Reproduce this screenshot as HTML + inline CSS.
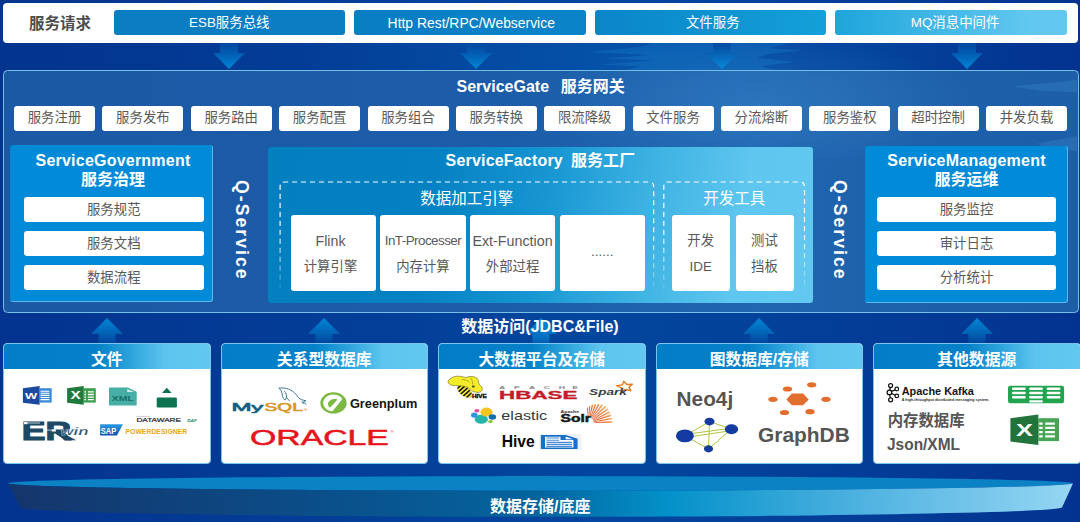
<!DOCTYPE html>
<html lang="zh-CN">
<head>
<meta charset="utf-8">
<title>Q-Service 服务架构</title>
<style>
html,body{margin:0;padding:0;}
body{width:1080px;height:522px;overflow:hidden;position:relative;
  font-family:"Liberation Sans","Noto Sans CJK SC",sans-serif;
  background:#03348f;}
#stage{position:absolute;left:0;top:0;width:1080px;height:522px;overflow:hidden;
  background:
    radial-gradient(ellipse 360px 50px at 660px 56px, rgba(10,110,190,.35), rgba(10,110,190,0) 100%),
    linear-gradient(90deg,#03348f 0%,#033d97 30%,#03469f 55%,#033d97 80%,#033390 100%);}
.abs{position:absolute;}
svg text{font-family:"Liberation Sans","Noto Sans CJK SC",sans-serif;}
.c{text-align:center;white-space:nowrap;}
/* top request bar */
#reqbar{left:3px;top:2.5px;width:1074.5px;height:40.5px;background:#fff;border-radius:4px;}
#reqlabel{left:4px;top:2.5px;width:112px;height:41px;line-height:41px;font-weight:bold;font-size:15.5px;color:#4d4d4d;}
.rbtn{top:10px;height:25px;line-height:26.5px;width:231.5px;border-radius:3px;color:#fff;font-size:13.4px;}
/* arrows */
.arrd{width:34px;height:27px;}
.arru{width:34px;height:27px;}
/* gateway */
#gate{left:3px;top:70px;width:1075.5px;height:243px;box-sizing:border-box;border:1.3px solid #78bfe4;border-radius:4.5px;
  background:linear-gradient(90deg,#1c59a5 0%,#1c5ca8 45%,#2066b0 70%,#1e60aa 85%,#1d5ea8 100%);}
.ttl{color:#fff;font-weight:bold;font-size:16px;}
.tag{top:106px;width:81px;height:25px;line-height:24px;background:#fff;border-radius:3px;color:#595959;font-size:13.4px;}
.pnl{background:#018ad7;border-radius:3px;box-sizing:border-box;border:0 solid #5bb9ec;border-right-width:1.3px;border-bottom-width:1.3px;}
.item{height:25px;line-height:26.4px;background:#fff;border-radius:3px;color:#595959;font-size:13.4px;}
.qs{color:#fff;font-weight:bold;font-size:17.6px;letter-spacing:2.05px;transform-origin:0 0;transform:rotate(90deg);white-space:nowrap;line-height:20px;height:20px;}
#sf{left:268px;top:147px;width:544.5px;height:155.5px;border-radius:3px;overflow:hidden;
  background:linear-gradient(99deg,#027fbf 0%,#0481c2 30%,#1796d2 50%,#3db2e2 68%,#5ec6ef 85%,#62c8f0 100%);}
.dash{border:1px dashed #fff;border-radius:5px;box-sizing:border-box;}
.sub{color:#fff;font-size:15.5px;}
.card{top:67.5px;height:76px;background:#fff;border-radius:3px;color:#595959;font-size:13.4px;}
.card span{position:absolute;left:-10px;right:-10px;text-align:center;white-space:nowrap;line-height:20px;}
/* bottom cards */
.bc{top:343px;width:207.5px;height:120.5px;background:#fff;border-radius:4px;box-sizing:border-box;border:1px solid #7cc4ec;overflow:hidden;}
.bh{left:0;top:0;right:0;height:25px;line-height:31.5px;color:#fff;font-weight:bold;font-size:15.8px;
  background:linear-gradient(90deg,#027dc8 0%,#0581c9 45%,#2da5dc 62%,#5cc4ee 78%,#62c8f0 100%);}
</style>
</head>
<body>
<div id="stage">

<!-- ===== top request bar ===== -->
<div id="reqbar" class="abs"></div>
<div id="reqlabel" class="abs c">服务请求</div>
<div class="abs rbtn c" style="left:113.5px;background:#0a7dc3;">ESB服务总线</div>
<div class="abs rbtn c" style="left:354px;background:linear-gradient(90deg,#0a7dc3,#0a83c8);font-size:13.9px;text-indent:3px;">Http Rest/RPC/Webservice</div>
<div class="abs rbtn c" style="left:594.5px;background:linear-gradient(90deg,#0a85c9,#14a0d8);text-indent:5px;">文件服务</div>
<div class="abs rbtn c" style="left:835px;background:linear-gradient(90deg,#1ea5db,#62c8f0 85%);text-indent:8.6px;">MQ消息中间件</div>

<svg class="abs" style="left:560px;top:43px" width="280" height="28" viewBox="560 43 280 28"><path d="M588 52L640 47L652 43H790L770 48L803 50.5L768 54L757 58L795 62L760 66L775 70H625L640 66.5L600 64.5L655 60.5L604 58.5L650 55Z" fill="#1c86d2" fill-opacity=".3"/></svg>
<!-- down arrows -->
<svg class="abs arrd" style="left:212px;top:43px" viewBox="0 0 34 27"><defs><linearGradient id="gd" x1="0" y1="0" x2="0" y2="1"><stop offset="0" stop-color="#03469e"/><stop offset=".45" stop-color="#0260b4"/><stop offset="1" stop-color="#0086d6"/></linearGradient></defs><path d="M8 0H26V10H33L17 26L1 10H8Z" fill="url(#gd)"/></svg>
<svg class="abs arrd" style="left:458.5px;top:43px" viewBox="0 0 34 27"><path d="M8 0H26V10H33L17 26L1 10H8Z" fill="url(#gd)"/></svg>
<svg class="abs arrd" style="left:704.5px;top:43px" viewBox="0 0 34 27"><path d="M8 0H26V10H33L17 26L1 10H8Z" fill="url(#gd)"/></svg>
<svg class="abs arrd" style="left:950px;top:43px" viewBox="0 0 34 27"><path d="M8 0H26V10H33L17 26L1 10H8Z" fill="url(#gd)"/></svg>

<!-- ===== gateway ===== -->
<div id="gate" class="abs"></div>
<svg class="abs" style="left:1000px;top:72px" width="78" height="82" viewBox="1000 72 78 82"><path d="M1012 86.5L1077 80V92.5L1038 90.5ZM1037 143.5L1077 136V151L1050 149.5Z" fill="#4aa6e6" fill-opacity=".2"/></svg>
<div class="abs" style="left:560px;top:38px;width:520px;height:130px;background:radial-gradient(ellipse 42% 50% at 38% 50%,rgba(80,170,230,.22) 0%,rgba(80,170,230,.13) 50%,rgba(80,170,230,0) 100%);"></div>
<div class="abs ttl c" style="left:340.6px;width:400px;top:77px;line-height:20px;">ServiceGate<span style="margin-left:11.6px">服务网关</span></div>

<div class="abs tag c" style="left:14px">服务注册</div>
<div class="abs tag c" style="left:102.4px">服务发布</div>
<div class="abs tag c" style="left:190.7px">服务路由</div>
<div class="abs tag c" style="left:279.1px">服务配置</div>
<div class="abs tag c" style="left:367.5px">服务组合</div>
<div class="abs tag c" style="left:455.8px">服务转换</div>
<div class="abs tag c" style="left:544.2px">限流降级</div>
<div class="abs tag c" style="left:632.5px">文件服务</div>
<div class="abs tag c" style="left:720.9px">分流熔断</div>
<div class="abs tag c" style="left:809.3px">服务鉴权</div>
<div class="abs tag c" style="left:897.6px">超时控制</div>
<div class="abs tag c" style="left:986px">并发负载</div>

<!-- ServiceGovernment -->
<div class="abs pnl" style="left:10px;top:145px;width:203px;height:157px;"></div>
<div class="abs ttl c" style="left:11.5px;width:203px;top:151px;line-height:19px;"><span style="letter-spacing:.22px">ServiceGovernment</span><br>服务治理</div>
<div class="abs item c" style="left:24px;width:179.5px;top:197px;">服务规范</div>
<div class="abs item c" style="left:24px;width:179.5px;top:231px;">服务文档</div>
<div class="abs item c" style="left:24px;width:179.5px;top:265px;">数据流程</div>

<div class="abs qs" style="left:252.1px;top:179.6px;">Q-Service</div>

<!-- ServiceFactory -->
<div id="sf" class="abs">
  <svg class="abs" style="left:0;top:0" width="545" height="156" viewBox="0 0 545 156"><defs><linearGradient id="dfade" gradientUnits="userSpaceOnUse" x1="0" y1="0" x2="0" y2="156"><stop offset="0" stop-color="#fff" stop-opacity="1"/><stop offset=".5" stop-color="#fff" stop-opacity=".95"/><stop offset=".72" stop-color="#fff" stop-opacity=".6"/><stop offset=".95" stop-color="#fff" stop-opacity="0"/></linearGradient></defs><g fill="none" stroke="url(#dfade)" stroke-width="1.2" stroke-dasharray="5.2 3.8">
    <path d="M12.1 160V39.5Q12.1 35 16.6 35H381.2Q385.7 35 385.7 39.5V160"/>
    <path d="M395.8 160V39.5Q395.8 35 400.3 35H532Q536.5 35 536.5 39.5V160"/></g></svg>
  <div class="abs sub c" style="left:11.5px;width:374.5px;top:42px;line-height:20px;">数据加工引擎</div>
  <div class="abs sub c" style="left:395.5px;width:141.5px;top:42px;line-height:20px;">开发工具</div>
  <div class="abs card" style="left:22.5px;width:85.5px;"><span style="top:16px;font-size:14.2px;margin-left:-5.5px">Flink</span><span style="top:42px;margin-left:-5.5px">计算引擎</span></div>
  <div class="abs card" style="left:112.2px;width:85.5px;"><span style="top:16px;letter-spacing:-.53px">InT-Processer</span><span style="top:42px">内存计算</span></div>
  <div class="abs card" style="left:201.8px;width:85.5px;"><span style="top:16px;font-size:14.3px">Ext-Function</span><span style="top:42px">外部过程</span></div>
  <div class="abs card" style="left:291.5px;width:85.5px;"><span style="top:27px">......</span></div>
  <div class="abs card" style="left:403.7px;width:58px;"><span style="top:16px">开发</span><span style="top:42px">IDE</span></div>
  <div class="abs card" style="left:467.5px;width:58px;"><span style="top:16px">测试</span><span style="top:42px">挡板</span></div>
</div>
<div class="abs ttl c" style="left:268px;width:544.5px;top:150.7px;line-height:20px;"><span style="letter-spacing:.18px">ServiceFactory</span><span style="margin-left:8px">服务工厂</span></div>

<div class="abs qs" style="left:849.7px;top:179.6px;">Q-Service</div>

<!-- ServiceManagement -->
<div class="abs pnl" style="left:865px;top:146px;width:203px;height:156.5px;"></div>
<div class="abs ttl c" style="left:865px;width:203px;top:151px;line-height:19px;"><span style="letter-spacing:.22px">ServiceManagement</span><br>服务运维</div>
<div class="abs item c" style="left:877px;width:179px;top:197px;">服务监控</div>
<div class="abs item c" style="left:877px;width:179px;top:231px;">审计日志</div>
<div class="abs item c" style="left:877px;width:179px;top:265px;">分析统计</div>

<!-- up arrows -->
<svg class="abs arru" style="left:89.5px;top:318px" viewBox="0 0 34 27"><defs><linearGradient id="gu" x1="0" y1="0" x2="0" y2="1"><stop offset="0" stop-color="#0086d6"/><stop offset=".6" stop-color="#0260b2"/><stop offset="1" stop-color="#03409a"/></linearGradient></defs><path d="M17 0L33 16H25.5V27H8.5V16H1Z" fill="url(#gu)"/></svg>
<svg class="abs arru" style="left:306.7px;top:318px" viewBox="0 0 34 27"><path d="M17 0L33 16H25.5V27H8.5V16H1Z" fill="url(#gu)"/></svg>
<svg class="abs arru" style="left:523.6px;top:318px" viewBox="0 0 34 27"><defs><linearGradient id="gu3" x1="0" y1="0" x2="0" y2="1"><stop offset="0" stop-color="#0086d6"/><stop offset=".7" stop-color="#0470c2"/><stop offset="1" stop-color="#0458ac"/></linearGradient></defs><path d="M17 0L33 16H25.5V27H8.5V16H1Z" fill="url(#gu3)"/></svg>
<svg class="abs arru" style="left:742.1px;top:318px" viewBox="0 0 34 27"><path d="M17 0L33 16H25.5V27H8.5V16H1Z" fill="url(#gu)"/></svg>
<svg class="abs arru" style="left:959.6px;top:318px" viewBox="0 0 34 27"><path d="M17 0L33 16H25.5V27H8.5V16H1Z" fill="url(#gu)"/></svg>

<div class="abs ttl c" style="left:340px;width:400px;top:317px;line-height:20px;">数据访问(JDBC&amp;File)</div>

<!-- ===== bottom cards ===== -->
<div class="abs bc" id="c1" style="left:3px;"><div class="abs bh c">文件</div></div>
<div class="abs bc" id="c2" style="left:220.5px;"><div class="abs bh c">关系型数据库</div></div>
<div class="abs bc" id="c3" style="left:438px;"><div class="abs bh c">大数据平台及存储</div></div>
<div class="abs bc" id="c4" style="left:655.5px;"><div class="abs bh c">图数据库/存储</div></div>
<div class="abs bc" id="c5" style="left:873px;"><div class="abs bh c">其他数据源</div></div>

<!-- ===== logos ===== -->
<svg class="abs logos" style="left:0;top:368px" width="1080" height="96" viewBox="0 368 1080 96">
<defs>
  <linearGradient id="sap" x1="0" y1="0" x2="0" y2="1"><stop offset="0" stop-color="#2a9be6"/><stop offset="1" stop-color="#0f50aa"/></linearGradient>
  <radialGradient id="sun" gradientUnits="userSpaceOnUse" cx="588.6" cy="422.6" r="24"><stop offset="0" stop-color="#d63c1c"/><stop offset=".45" stop-color="#e2602a"/><stop offset=".8" stop-color="#ee9350"/><stop offset="1" stop-color="#f6c08a"/></radialGradient>
</defs>
<!-- card 1 : 文件 -->
<g id="lg-word">
  <rect x="39.6" y="388.2" width="12.1" height="14.4" fill="#3c8cd7"/>
  <path d="M40.6 391.2H49.4M40.6 393.3H49.4M40.6 395.4H49.4M40.6 397.5H49.4M40.6 399.6H49.4" stroke="#fff" stroke-width="1.1"/>
  <path d="M22.9 388.2L39.6 386.1V404.7L22.9 402.75Z" fill="#1b4aa0"/>
  <text x="25" y="398.9" font-weight="bold" font-size="9.8" fill="#fff" textLength="12.2" lengthAdjust="spacingAndGlyphs">W</text>
</g>
<g id="lg-excel">
  <rect x="83.7" y="388.2" width="12.1" height="14.4" fill="#3ca050"/>
  <path d="M84.4 391.9H86M84.4 394.5H86M84.4 397.1H86M84.4 399.6H86M88 391.9H93.8M88 394.5H93.8M88 397.1H93.8M88 399.6H93.8" stroke="#fff" stroke-width="1.4"/>
  <path d="M67.1 388.2L83.75 386.1V404.7L67.1 402.75Z" fill="#217a3c"/>
  <text x="70.4" y="399.1" font-weight="bold" font-size="10.2" fill="#fff" textLength="10.2" lengthAdjust="spacingAndGlyphs">X</text>
</g>
<g id="lg-xml">
  <path d="M109 387.6H127.9L136.7 391.75V405.5H109Z" fill="#46afa5"/>
  <path d="M127.2 388.9L134.2 391.9H127.2Z" fill="#d2ece8"/>
  <text x="111.7" y="401" font-weight="bold" font-size="6.6" fill="#196e69" textLength="22.2" lengthAdjust="spacingAndGlyphs">XML</text>
</g>
<g id="lg-eject" fill="#0e7350">
  <path d="M166.8 387.8L162 392.9H171.7Z"/>
  <rect x="156.7" y="397.6" width="20.2" height="9.8" rx="1.2"/>
</g>
<g id="lg-erwin">
  <text x="21.8" y="439.6" font-weight="bold" font-size="26.4" fill="#1e4864" stroke="#1e4864" stroke-width="1.1" stroke-linejoin="miter" textLength="49.5" lengthAdjust="spacingAndGlyphs">ER</text>
  <path d="M60 431.5L76.2 440.2H65.5L55 433.5Z" fill="#1e4864"/>
  <rect x="24" y="422.1" width="3.6" height="2.1" fill="#fff"/>
  <path d="M27.6 423H40M45.4 423.6V430.1H51.7" stroke="#fff" stroke-width=".7" fill="none"/>
  <rect x="51.7" y="429.3" width="4.2" height="2.2" fill="#fff"/>
  <text x="60.5" y="435" font-family="'Liberation Serif',serif" font-style="italic" font-weight="bold" font-size="10.5" fill="#1e4864" stroke="#fff" stroke-width=".25" textLength="28" lengthAdjust="spacingAndGlyphs">win</text>
</g>
<g id="lg-sap">
  <path d="M100.1 424.3H123L116.9 435.5H100.1Z" fill="url(#sap)"/>
  <text x="100.7" y="433.9" font-weight="bold" font-size="9.8" fill="#fff" textLength="15.6" lengthAdjust="spacingAndGlyphs">SAP</text>
  <text x="125.5" y="434.4" font-weight="bold" font-size="7.8" fill="#eba51e" textLength="61.7" lengthAdjust="spacingAndGlyphs">POWERDESIGNER</text>
  <path d="M136.2 416.4H150" stroke="#9a9a9a" stroke-width=".5"/>
  <text x="136.4" y="422.2" font-size="5.5" fill="#333" stroke="#333" stroke-width=".22" textLength="44.6" lengthAdjust="spacingAndGlyphs">DATAWARE</text>
  <text x="187.2" y="422.4" font-size="3.9" font-style="italic" font-weight="bold" fill="#1e8250" textLength="9.6" lengthAdjust="spacingAndGlyphs">DAF</text>
</g>
<!-- card 2 : 关系型数据库 -->
<g id="lg-mysql">
  <text x="231.4" y="411.1" font-size="10.6" fill="#145f82" stroke="#145f82" stroke-width=".6" textLength="32" lengthAdjust="spacingAndGlyphs">My</text>
  <text x="264.6" y="411.1" font-size="10.6" fill="#d7962a" stroke="#d7962a" stroke-width=".6" textLength="38.2" lengthAdjust="spacingAndGlyphs">SQL</text>
  <circle cx="305.6" cy="409.5" r="1.25" fill="#e9c085"/>
  <path d="M279.2 388.1C284 387.4 289.5 388.6 294.2 392.5C296.5 394.6 297.5 396.6 298.6 397.7C300 399.3 302.6 400.2 305.8 400.8C304.6 401.3 303.6 401.6 303.2 402.2C304.2 402.8 305.4 403.4 306.2 404.3M279.3 388.3C280.8 389.6 281.6 391.4 282 393.5C282.4 395.6 282.6 397.4 283.6 398.7C284.2 399.5 284.8 400 285.2 400C285.6 399.2 286 398.4 286.6 397.7C287.6 398.6 288.6 399.8 289.4 400.8M284.6 391.4C286 392.8 286.6 394.6 286.6 397.6M301.8 401.6C302.4 402.4 302.8 403 303.3 403.8" fill="none" stroke="#326e8c" stroke-width=".95" stroke-linecap="round" stroke-linejoin="round"/>
</g>
<g id="lg-greenplum">
  <ellipse cx="333.5" cy="402.9" rx="13.2" ry="10.6" fill="#7db941"/>
  <path d="M340.9 398.9A9 7.2 0 1 0 332 410Z" fill="#fff" stroke="#fff" stroke-width="2.4" stroke-linejoin="round"/><path d="M337.6 399.4C334 398.2 330 399.4 328.4 402.2C327.4 404.4 328.2 406.6 330.2 407.6Z" fill="#7db941"/>
  <text x="349.9" y="407.8" font-weight="bold" font-size="13" fill="#141414" textLength="67.4" lengthAdjust="spacingAndGlyphs">Greenplum</text>
</g>
<g id="lg-oracle">
  <text x="250.1" y="444.9" font-size="22.3" fill="#e8141c" stroke="#e8141c" stroke-width=".55" textLength="138.8" lengthAdjust="spacingAndGlyphs">ORACLE</text>
  <text x="390.6" y="432.6" font-size="4.2" fill="#e8141c">®</text>
</g>
<!-- card 3 : 大数据平台及存储 -->
<g id="lg-hivebee">
  <clipPath id="beeclip"><ellipse cx="464.6" cy="391.4" rx="8.6" ry="4.6" transform="rotate(38 464.6 391.4)"/></clipPath>
  <g clip-path="url(#beeclip)">
    <rect x="452" y="380" width="26" height="22" fill="#f2e636"/>
    <g stroke="#141414" stroke-width="1.5" transform="rotate(-42 464.6 391.4)">
      <path d="M453 384.4H477M453 387.6H477M453 390.8H477M453 394H477M453 397.2H477M453 400.4H477"/>
    </g>
  </g>
  <path d="M448.2 380.8C450 378 453 376.6 456.5 376.2C460 375.8 463 377 465.7 377.5C468 376.6 470 376.2 472.3 376.6C475 377 476.8 377.6 477.6 379.2C478.6 381 478.6 382.8 479 384.2C480.4 385.2 481.8 386.4 482.3 387.9C482.6 389.6 481.8 391 480.7 391.7C479 392.6 477.2 392.6 475.7 392.1C474 391.8 472.6 391.4 471.5 390.8C470 389.8 469 388.6 468.2 387.5C465.2 386.4 462 386 459 385.8C456.6 385.8 454.4 385.8 452.3 385.4C450.6 385 449.2 384.4 448.6 383.3C448.1 382.4 447.9 381.6 448.2 380.8Z" fill="#f5eb28" stroke="#3a3a10" stroke-width=".45"/>
  <path d="M461.5 379.6C464.5 379.4 467.4 380.2 469.4 382M470.4 377.6C472 379.6 472.8 382 472.4 384.4" fill="none" stroke="#6a641a" stroke-width=".5"/><ellipse cx="473.4" cy="386.6" rx="1.5" ry="1" fill="#3a3a10"/><circle cx="473.8" cy="386.3" r=".4" fill="#fff"/>
  <text x="471.9" y="398.4" font-family="'Liberation Serif','DejaVu Serif',serif" font-weight="bold" font-size="5.9" fill="#0a0a0a" stroke="#0a0a0a" stroke-width=".35" textLength="15" lengthAdjust="spacingAndGlyphs">HIVE</text>
</g>
<g id="lg-hbase">
  <g transform="translate(499 389.1) scale(2.1 1)"><text x="0 7.1 14.3 21.3 28.4 34.9" y="0" font-size="4.2" font-weight="bold" fill="#8a8a8a">APACHE</text></g>
  <text x="499" y="398.5" font-size="10.8" font-weight="bold" fill="#c31e28" stroke="#c31e28" stroke-width=".3" textLength="78.5" lengthAdjust="spacingAndGlyphs">HBASE</text>
</g>
<g id="lg-spark">
  <path d="M623.8 381.3L626.8 384.5L632.5 384.3L628.8 387.2L630.8 390.8L625.5 389.4L621.1 391.7L621.5 387.9L616.7 385.8L622.3 384.9Z" fill="#fff" stroke="#e67d1e" stroke-width="1.4" stroke-linejoin="round"/>
  <text x="589.1" y="394.8" font-size="9.6" font-weight="bold" font-style="italic" fill="#3c3c3c" textLength="37.8" lengthAdjust="spacingAndGlyphs">Spark</text>
</g>
<g id="lg-elastic">
  <ellipse cx="481.3" cy="419.3" rx="6.6" ry="4.5" fill="#28b4aa"/>
  <ellipse cx="486.5" cy="412.1" rx="6.1" ry="4.5" fill="#fac31e"/>
  <ellipse cx="476.9" cy="410.7" rx="2.5" ry="1.8" fill="#eb4696"/>
  <ellipse cx="474.3" cy="415.1" rx="3.3" ry="2.7" fill="#3296dc"/>
  <ellipse cx="492.4" cy="417" rx="3.8" ry="2.8" fill="#146eaa"/>
  <ellipse cx="490.5" cy="421.6" rx="2.4" ry="1.6" fill="#8cc83c"/>
  <text x="501.3" y="420" font-size="12.6" fill="#37373c" textLength="45.9" lengthAdjust="spacingAndGlyphs">elastic</text>
</g>
<g id="lg-solr">
  <path d="M588.0 417.6L586.8 408.0L587.3 407.3L588.0 407.9L588.4 417.6ZM588.7 417.6L589.0 406.4L589.7 405.8L590.3 406.4L589.1 417.6ZM589.5 417.7L591.6 405.1L592.5 404.7L593.1 405.4L589.9 417.8ZM590.2 417.9L594.7 404.3L595.6 404.1L596.1 404.9L590.6 418.0ZM590.9 418.1L598.0 404.1L599.0 404.0L599.5 404.9L591.2 418.3ZM591.5 418.5L601.5 404.5L602.6 404.6L602.9 405.6L591.8 418.8ZM592.1 419.0L604.9 405.7L606.0 405.9L606.2 407.1L592.4 419.3ZM592.6 419.5L607.2 408.3L608.3 408.7L608.3 409.8L592.8 419.9ZM593.0 420.2L609.1 411.2L610.1 411.8L610.0 412.9L593.2 420.5ZM593.3 420.8L610.6 414.3L611.5 415.1L611.2 416.2L593.4 421.2ZM593.5 421.6L611.6 417.7L612.4 418.5L611.9 419.6L593.6 422.0ZM593.6 422.3L612.1 421.1L612.7 422.1L612.1 423.1L593.6 422.7Z" fill="url(#sun)"/>
  <text x="560.6" y="413.3" font-size="3.7" font-weight="bold" fill="#333" textLength="18.5" lengthAdjust="spacingAndGlyphs">Apache</text>
  <text x="560.6" y="422.3" font-size="10.3" font-weight="bold" fill="#1a1a1a" stroke="#1a1a1a" stroke-width=".45" textLength="30.3" lengthAdjust="spacingAndGlyphs">Solr</text>
</g>
<g id="lg-hive">
  <text x="501.7" y="446.8" font-weight="bold" font-size="16" fill="#0a0a0a" textLength="33.1" lengthAdjust="spacingAndGlyphs">Hive</text>
  <rect x="538.9" y="434.1" width="42.7" height="15.8" fill="#eef2f8"/>
  <path d="M540.9 434.9H565.9L577.6 438.7V448.9H540.9Z" fill="#196ec8"/>
  <path d="M545 436.8H560.5V440H573.4V447.6H545Z" fill="#fff"/>
  <path d="M565.6 436.6L573 439.2H565.6Z" fill="#fff"/>
  <path d="M546.4 438H559.2M546.4 440.2H559.2M546.4 442.4H572M546.4 444.4H572M546.4 446.4H572" stroke="#4a8cd8" stroke-width="1.1"/>
</g>
<!-- card 4 : 图数据库/存储 -->
<g id="lg-neo4j">
  <text x="676.6" y="406" font-size="21" font-weight="bold" fill="#555" textLength="56.6" lengthAdjust="spacingAndGlyphs">Neo4j</text>
  <g stroke="#aac83c" stroke-width="1" fill="none">
    <path d="M684.9 435.9L709.5 421.5L731.5 429.2L708.5 448.9ZM709.5 421.5L708.5 448.9M684.9 434.4L731.5 428.2M684.9 437.6L731.5 430.6"/>
  </g>
  <g fill="#143ca0">
    <ellipse cx="684.9" cy="435.9" rx="9" ry="6.4"/>
    <ellipse cx="709.5" cy="421.6" rx="5" ry="3.9"/>
    <ellipse cx="731.5" cy="429.3" rx="6.6" ry="5"/>
    <ellipse cx="708.5" cy="448.8" rx="4.6" ry="3.6"/>
  </g>
</g>
<g id="lg-graphdb">
  <g fill="#e16e2d">
    <path d="M786.3 399.4L791.9 393.6H803.1L808.7 399.4L803.1 405.3H791.9Z"/>
    <ellipse cx="811.7" cy="384.8" rx="4.6" ry="2.6"/>
    <ellipse cx="787.5" cy="389" rx="4.6" ry="2.6"/>
    <ellipse cx="773" cy="399.3" rx="4.6" ry="2.6"/>
    <ellipse cx="826" cy="399.3" rx="4.6" ry="2.6"/>
    <ellipse cx="784.5" cy="412.5" rx="4.6" ry="2.6"/>
    <ellipse cx="810" cy="411.7" rx="4.6" ry="2.6"/>
  </g>
  <text x="758" y="442.1" font-size="21" font-weight="bold" fill="#555" textLength="91.8" lengthAdjust="spacingAndGlyphs">GraphDB</text>
</g>
<!-- card 5 : 其他数据源 -->
<g id="lg-kafka">
  <g stroke="#141414" stroke-width="1.25" fill="none">
    <path d="M890.4 387.5L889.6 390.2M889.6 394.6L890.4 397.8M891.4 391.4L895.2 389.8M891.4 393.4L895.2 395.2"/>
    <circle cx="890.6" cy="385.5" r="2"/><circle cx="889.4" cy="392.4" r="2.3"/><circle cx="890.6" cy="399.8" r="2"/>
    <circle cx="896.8" cy="389" r="1.8"/><circle cx="896.8" cy="395.9" r="1.8"/>
  </g>
  <text x="901.7" y="394.8" font-size="11" font-weight="bold" fill="#141414" textLength="72.2" lengthAdjust="spacingAndGlyphs">Apache Kafka</text>
  <text x="901.7" y="400.8" font-size="3.6" font-weight="bold" fill="#2a2a2a" textLength="87.7" lengthAdjust="spacingAndGlyphs">A high-throughput distributed messaging system.</text>
</g>
<text x="887.7" y="426.2" font-size="15.4" font-weight="bold" fill="#555">内存数据库</text>
<text x="887" y="449.6" font-size="16" font-weight="bold" fill="#555" textLength="73" lengthAdjust="spacingAndGlyphs">Json/XML</text>
<g id="lg-table">
  <rect x="1008" y="385.7" width="56.1" height="17.6" rx="2.2" fill="#23a550"/>
  <g fill="#fff">
    <rect x="1012" y="387.5" width="13.7" height="2.5" rx="1"/><rect x="1012" y="391.8" width="13.7" height="2.5" rx="1"/><rect x="1012" y="396.1" width="13.7" height="2.5" rx="1"/>
    <rect x="1029.2" y="387.5" width="13.7" height="2.5" rx="1"/><rect x="1029.2" y="391.8" width="13.7" height="2.5" rx="1"/><rect x="1029.2" y="396.1" width="13.7" height="2.5" rx="1"/><rect x="1029.2" y="400.2" width="13.7" height="2.4" rx="1"/>
    <rect x="1046.7" y="387.5" width="13.7" height="2.5" rx="1"/><rect x="1046.7" y="391.8" width="13.7" height="2.5" rx="1"/><rect x="1046.7" y="396.1" width="13.7" height="2.5" rx="1"/>
  </g>
</g>
<g id="lg-excelbig">
  <rect x="1038.3" y="418.2" width="20.7" height="22.9" fill="#46a555"/>
  <path d="M1039.2 423.6H1042.6M1039.2 427.9H1042.6M1039.2 432.1H1042.6M1039.2 436.3H1042.6M1045.2 423.6H1054.9M1045.2 427.9H1054.9M1045.2 432.1H1054.9M1045.2 436.3H1054.9" stroke="#fff" stroke-width="2.3"/>
  <path d="M1010.4 418.2L1038.3 414.5V445.1L1010.4 441.6Z" fill="#23733c"/>
  <text x="1016.1" y="435.9" font-weight="bold" font-size="16.6" fill="#fff" textLength="16.9" lengthAdjust="spacingAndGlyphs">X</text>
</g>
<!--LOGOS-NEXT-->
</svg>

<!-- ===== platform ===== -->
<svg class="abs" style="left:0;top:470px" width="1080" height="52" viewBox="0 470 1080 52">
  <defs>
    <linearGradient id="pf" x1="0" y1="0" x2="1" y2="0">
      <stop offset="0" stop-color="#15356b"/><stop offset=".25" stop-color="#0c4a85"/><stop offset=".5" stop-color="#04659f"/>
      <stop offset=".62" stop-color="#0391c9"/><stop offset=".8" stop-color="#4eb2e0"/><stop offset="1" stop-color="#95d6f3"/>
    </linearGradient>
  </defs>
  <ellipse cx="540.5" cy="483.4" rx="532.5" ry="7.3" fill="#0a82c3"/>
  <path d="M8 483.4A532.5 7.3 0 0 0 1073 483.4L1062 507.6A521 9.6 0 0 1 20 506.8Z" fill="url(#pf)"/>
  <text x="540.3" y="511.6" text-anchor="middle" fill="#fff" font-weight="bold" font-size="16" font-family="'Liberation Sans','Noto Sans CJK SC',sans-serif">数据存储/底座</text>
</svg>

</div>
</body>
</html>
